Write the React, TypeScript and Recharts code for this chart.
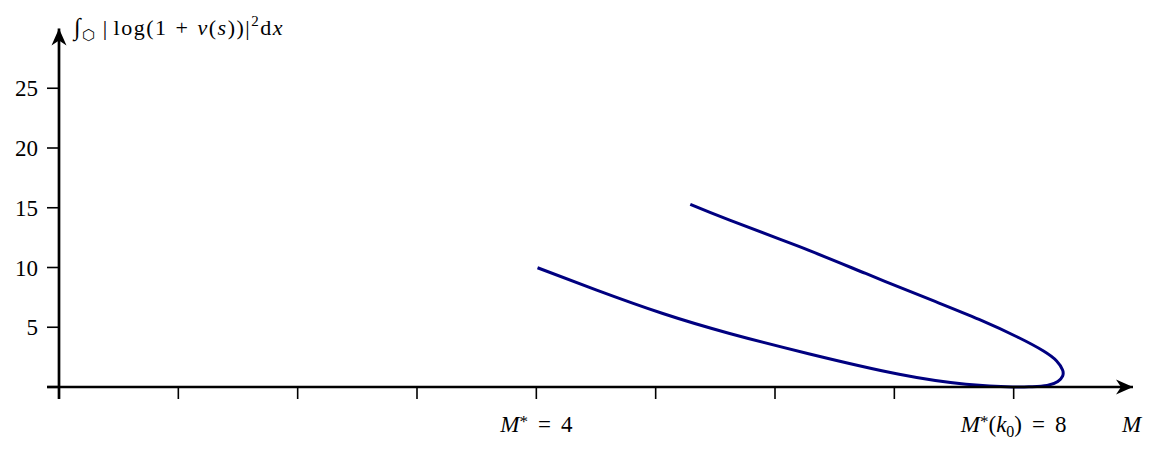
import React from 'react';
import { LineChart, Line, XAxis, YAxis, ReferenceDot, ReferenceLine, Label } from 'recharts';

// curve: lower branch from M*=4 down to M*(k0)=8, turn, upper branch back
const mValues = [
	4.01, 4.5, 5.06, 5.62, 6.29, 7.04, 7.6, 7.99,
	8.14, 8.28, 8.37, 8.41, 8.41, 8.36, 8.25, 8.04,
	7.71, 7.32, 6.76, 6.2, 5.62, 5.29,
];
const integralValues = [
	9.98, 8.13, 6.15, 4.48, 2.76, 1.06, 0.23, 0.0,
	0.02, 0.13, 0.46, 0.92, 1.42, 2.18, 3.01, 4.14,
	5.65, 7.24, 9.5, 11.76, 13.97, 15.29,
];

const xTicks = [0, 1, 2, 3, 4, 5, 6, 7, 8];
const yTicks = [0, 5, 10, 15, 20, 25];
// tick label pieces: [italic M, superscript, argument, value]
const xTickLabels: Record<number, [string, string, string, string]> = {
	4: ['M', '*', '', '4'],
	8: ['M', '*', 'k', '8'],
};

const data = mValues.map((m, i) => ({ m, value: integralValues[i] }));

const FONT = '"Liberation Serif", serif';
const INK = '#000000';
const CURVE = '#000080';

const XTick = (props: any) => {
	const { x, y, payload } = props;
	const parts = xTickLabels[payload.value];
	if (!parts) return null;
	const [m, sup, arg, val] = parts;
	return (
		<text x={x} y={y + 33} textAnchor="middle" fontFamily={FONT} fontSize={23} fill={INK}>
			<tspan fontStyle="italic">{m}</tspan>
			<tspan fontSize={17} dy={-5}>{sup}</tspan>
			{arg && <tspan dy={5}>(</tspan>}
			{arg && <tspan fontStyle="italic">{arg}</tspan>}
			{arg && <tspan fontSize={16} dy={5}>0</tspan>}
			{arg && <tspan dy={-5}>)</tspan>}
			<tspan dx={10} dy={arg ? 0 : 5}>=</tspan>
			<tspan dx={10}>{val}</tspan>
		</text>
	);
};

const YTick = (props: any) => {
	const { x, y, payload } = props;
	if (payload.value === 0) return null;
	return (
		<text x={x} y={y} dy="0.35em" textAnchor="end" fontFamily={FONT} fontSize={23} fill={INK}>
			{payload.value}
		</text>
	);
};

const arrowRight = (p: any) => (
	<polygon
		points={`${p.cx},${p.cy} ${p.cx - 17},${p.cy - 7.5} ${p.cx - 12},${p.cy} ${p.cx - 17},${p.cy + 7.5}`}
		fill={INK}
	/>
);
const arrowUp = (p: any) => (
	<polygon
		points={`${p.cx},${p.cy} ${p.cx - 7.5},${p.cy + 17} ${p.cx},${p.cy + 12} ${p.cx + 7.5},${p.cy + 17}`}
		fill={INK}
	/>
);

export default function App() {
	return (
		<div style={{ position: 'absolute', left: 0, top: 0, background: '#fff' }}>
			<LineChart width={1162} height={450} data={data} margin={{ top: 28.5, right: 29, bottom: 23, left: 0 }}>
				<XAxis
					dataKey="m"
					type="number"
					domain={[0, 9]}
					ticks={xTicks}
					interval={0}
					tickSize={12}
					tickMargin={0}
					tick={<XTick />}
					stroke={INK}
					axisLine={{ stroke: INK, strokeWidth: 2.7 }}
					tickLine={{ stroke: INK, strokeWidth: 1.6 }}
					height={40}
				>
					<Label
						content={(p: any) => (
							<text
								x={p.viewBox.x + p.viewBox.width - 11}
								y={p.viewBox.y + 45}
								fontFamily={FONT}
								fontSize={23}
								fontStyle="italic"
								fill={INK}
							>
								M
							</text>
						)}
					/>
				</XAxis>
				<YAxis
					type="number"
					domain={[0, 30]}
					ticks={yTicks}
					interval={0}
					width={59}
					tickSize={12}
					tickMargin={9}
					tick={<YTick />}
					axisLine={{ stroke: INK, strokeWidth: 2.7 }}
					tickLine={{ stroke: INK, strokeWidth: 1.6 }}
				>
					<Label
						content={(p: any) => (
							<text
								x={p.viewBox.x + p.viewBox.width + 15}
								y={p.viewBox.y + 6}
								fontFamily={FONT}
								fontSize={22}
								letterSpacing={1.5}
								fill={INK}
							>
								<tspan fontStyle="italic" fontSize={24}>∫</tspan>
								<tspan fontFamily='"DejaVu Sans", sans-serif' fontSize={15} dy={5}>⬡</tspan>
								<tspan dx={6} dy={-5}>|</tspan>
								<tspan dx={5}>log(1</tspan>
								<tspan dx={8}>+</tspan>
								<tspan dx={8} fontStyle="italic">v</tspan>
								<tspan>(</tspan>
								<tspan fontStyle="italic">s</tspan>
								<tspan>))|</tspan>
								<tspan fontSize={15} dy={-9}>2</tspan>
								<tspan dy={9}>d</tspan>
								<tspan fontStyle="italic">x</tspan>
							</text>
						)}
					/>
				</YAxis>
				<ReferenceLine segment={[{ x: -0.1, y: 0 }, { x: 0, y: 0 }]} stroke={INK} strokeWidth={2.7} ifOverflow="visible" />
				<ReferenceLine segment={[{ x: 0, y: -1 }, { x: 0, y: 0 }]} stroke={INK} strokeWidth={2.7} ifOverflow="visible" />
				<ReferenceDot x={9} y={0} r={0} ifOverflow="visible" shape={arrowRight} />
				<ReferenceDot x={0} y={30} r={0} ifOverflow="visible" shape={arrowUp} />
				<Line
					type="natural"
					dataKey="value"
					stroke={CURVE}
					strokeWidth={3}
					dot={false}
					isAnimationActive={false}
				/>
			</LineChart>
		</div>
	);
}
